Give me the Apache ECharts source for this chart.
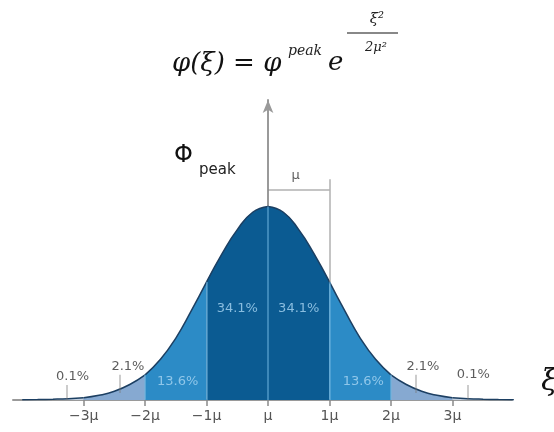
<!DOCTYPE html>
<html>
<head>
<meta charset="utf-8">
<script src="https://cdn.jsdelivr.net/npm/echarts@6/dist/echarts.min.js"></script>
<style>
  html, body { margin: 0; padding: 0; background: #fff; }
  #chart { width: 554px; height: 432px; }
</style>
</head>
<body>
<div id="chart"></div>
<script>
// Normal curve, heights relative to the peak (Φ_peak = 1), x in units of μ
const curveX = [-4, -3.75, -3.5, -3.25, -3, -2.75, -2.5, -2.25, -2, -1.75, -1.5, -1.25, -1, -0.75, -0.5, -0.25,
                0, 0.25, 0.5, 0.75, 1, 1.25, 1.5, 1.75, 2, 2.25, 2.5, 2.75, 3, 3.25, 3.5, 3.75, 4];
const curveY = [0.001, 0.002, 0.004, 0.007, 0.012, 0.024, 0.045, 0.08, 0.13, 0.21, 0.32, 0.46, 0.61, 0.755, 0.88, 0.97,
                1.0, 0.97, 0.88, 0.755, 0.61, 0.46, 0.32, 0.21, 0.13, 0.08, 0.045, 0.024, 0.012, 0.007, 0.004, 0.002, 0.001];

// Bands between the μ marks and the share of the area in each
const bandEdges = [-4, -3, -2, -1, 0, 1, 2, 3, 4];
const bandShares = ['0.1%', '2.1%', '13.6%', '34.1%', '34.1%', '13.6%', '2.1%', '0.1%'];

// Axis ticks
const sigmaTicks = [-3, -2, -1, 0, 1, 2, 3];
const tickLabels = ['−3μ', '−2μ', '−1μ', 'μ', '1μ', '2μ', '3μ'];

// Boundaries drawn as light separators inside the fill
const separatorAt = [-2, -1, 0, 1, 2];

// Share labels inside the bands: [x, y, text]
const innerLabels = [[-0.5, 0.47, '34.1%'], [0.5, 0.47, '34.1%'], [-1.47, 0.093, '13.6%'], [1.55, 0.093, '13.6%']];
// Share labels outside the curve with leader lines: label [x, y], leader x, leader [y0, y1]
const outerLabels = [
  { text: '2.1%', at: [-2.28, 0.17], lineX: -2.42, lineY: [0.036, 0.13] },
  { text: '2.1%', at: [2.52, 0.17], lineX: 2.41, lineY: [0.036, 0.13] },
  { text: '0.1%', at: [-3.18, 0.12], lineX: -3.27, lineY: [0, 0.078] },
  { text: '0.1%', at: [3.34, 0.13], lineX: 3.25, lineY: [0, 0.078] }
];

// μ bracket from the peak axis to the 1μ line
const bracketY = 1.088;
const bracketTop = 1.14;

const bandColors = ['#c4d1e0', '#86a9d1', '#2c8bc6', '#0b5b92', '#0b5b92', '#2c8bc6', '#86a9d1', '#c4d1e0'];

function heightAt(x) {
  return curveY[curveX.indexOf(x)];
}

const bandSeries = bandShares.map((share, i) => {
  const lo = bandEdges[i], hi = bandEdges[i + 1];
  const pts = [];
  curveX.forEach((x, k) => { if (x >= lo && x <= hi) pts.push([x, curveY[k]]); });
  return {
    type: 'line',
    name: share,
    data: pts,
    smooth: true,
    showSymbol: false,
    silent: true,
    z: 2,
    lineStyle: { color: '#1c3f62', width: 1.5 },
    areaStyle: { color: bandColors[i], opacity: 1 }
  };
});

const sepLines = separatorAt.map(x => ({
  coords: [[x, 0], [x, heightAt(x)]],
  lineStyle: { color: '#6fb5e0', width: 2 }
}));

const greyLines = outerLabels.map(o => ({
  coords: [[o.lineX, o.lineY[0]], [o.lineX, o.lineY[1]]],
  lineStyle: { color: '#777', width: 1.5 }
}));
greyLines.push({ coords: [[0, bracketY], [1, bracketY]], lineStyle: { color: '#8a8a8a', width: 2 } });
greyLines.push({ coords: [[1, bracketTop], [1, heightAt(1)]], lineStyle: { color: '#8a8a8a', width: 2 } });

const chart = echarts.init(document.getElementById('chart'), null, { renderer: 'canvas' });

chart.setOption({
  animation: false,
  backgroundColor: '#fff',
  grid: { left: 13, right: 42, top: 100, bottom: 32, containLabel: false, outerBoundsMode: 'none' },
  xAxis: {
    type: 'value',
    min: -4.15,
    max: 3.97,
    splitLine: { show: false },
    axisLine: { show: true, lineStyle: { color: '#9a9a9a', width: 2 } },
    axisTick: { show: true, customValues: sigmaTicks, length: 6, lineStyle: { color: '#8a8a8a', width: 1.5 } },
    axisLabel: {
      show: true,
      customValues: sigmaTicks,
      margin: 9,
      color: '#555',
      fontFamily: 'DejaVu Sans',
      fontSize: 14,
      formatter: v => tickLabels[sigmaTicks.indexOf(v)]
    }
  },
  yAxis: {
    type: 'value',
    min: 0,
    max: 1.55,
    splitLine: { show: false },
    axisTick: { show: false },
    axisLabel: { show: false },
    axisLine: {
      show: true,
      onZero: true,
      symbol: ['none', 'arrow'],
      symbolSize: [8, 13],
      lineStyle: { color: '#9a9a9a', width: 2 }
    }
  },
  graphic: [
    { type: 'text', x: 172, y: 64, style: { text: 'φ(ξ) = φ', font: 'italic 26px "DejaVu Serif"', fill: '#111', textVerticalAlign: 'middle' } },
    { type: 'text', x: 288, y: 51, style: { text: 'peak', font: 'italic 14px "DejaVu Serif"', fill: '#222', textVerticalAlign: 'middle' } },
    { type: 'text', x: 328, y: 63, style: { text: 'e', font: 'italic 26px "DejaVu Serif"', fill: '#111', textVerticalAlign: 'middle' } },
    { type: 'text', x: 377, y: 19, style: { text: 'ξ²', font: 'italic 15px "DejaVu Serif"', fill: '#222', textAlign: 'center', textVerticalAlign: 'middle' } },
    { type: 'line', shape: { x1: 347, y1: 33, x2: 398, y2: 33 }, style: { stroke: '#888', lineWidth: 2 } },
    { type: 'text', x: 376, y: 48, style: { text: '2μ²', font: 'italic 13px "DejaVu Serif"', fill: '#222', textAlign: 'center', textVerticalAlign: 'middle' } },
    { type: 'text', x: 174, y: 156, style: { text: 'Φ', font: '24px "DejaVu Sans"', fill: '#111', textVerticalAlign: 'middle' } },
    { type: 'text', x: 199, y: 170, style: { text: 'peak', font: '15px "DejaVu Sans"', fill: '#222', textVerticalAlign: 'middle' } },
    { type: 'text', x: 541, y: 382, style: { text: 'ξ', font: 'italic 30px "DejaVu Serif"', fill: '#111', textVerticalAlign: 'middle' } }
  ],
  series: bandSeries.concat([
    {
      type: 'lines',
      coordinateSystem: 'cartesian2d',
      silent: true,
      z: 4,
      polyline: false,
      symbol: 'none',
      data: sepLines.concat(greyLines)
    },
    {
      type: 'scatter',
      silent: true,
      z: 6,
      symbolSize: 0,
      data: innerLabels.map(l => ({ value: [l[0], l[1]], name: l[2] })),
      label: { show: true, position: 'inside', formatter: '{b}', color: '#a9d6f2', fontFamily: 'DejaVu Sans', fontSize: 13 }
    },
    {
      type: 'scatter',
      silent: true,
      z: 6,
      symbolSize: 0,
      data: outerLabels.map(o => ({ value: o.at, name: o.text })).concat([{ value: [0.45, 1.16], name: 'μ' }]),
      label: { show: true, position: 'inside', formatter: '{b}', color: '#333', fontFamily: 'DejaVu Sans', fontSize: 13 }
    }
  ])
});
</script>
</body>
</html>
